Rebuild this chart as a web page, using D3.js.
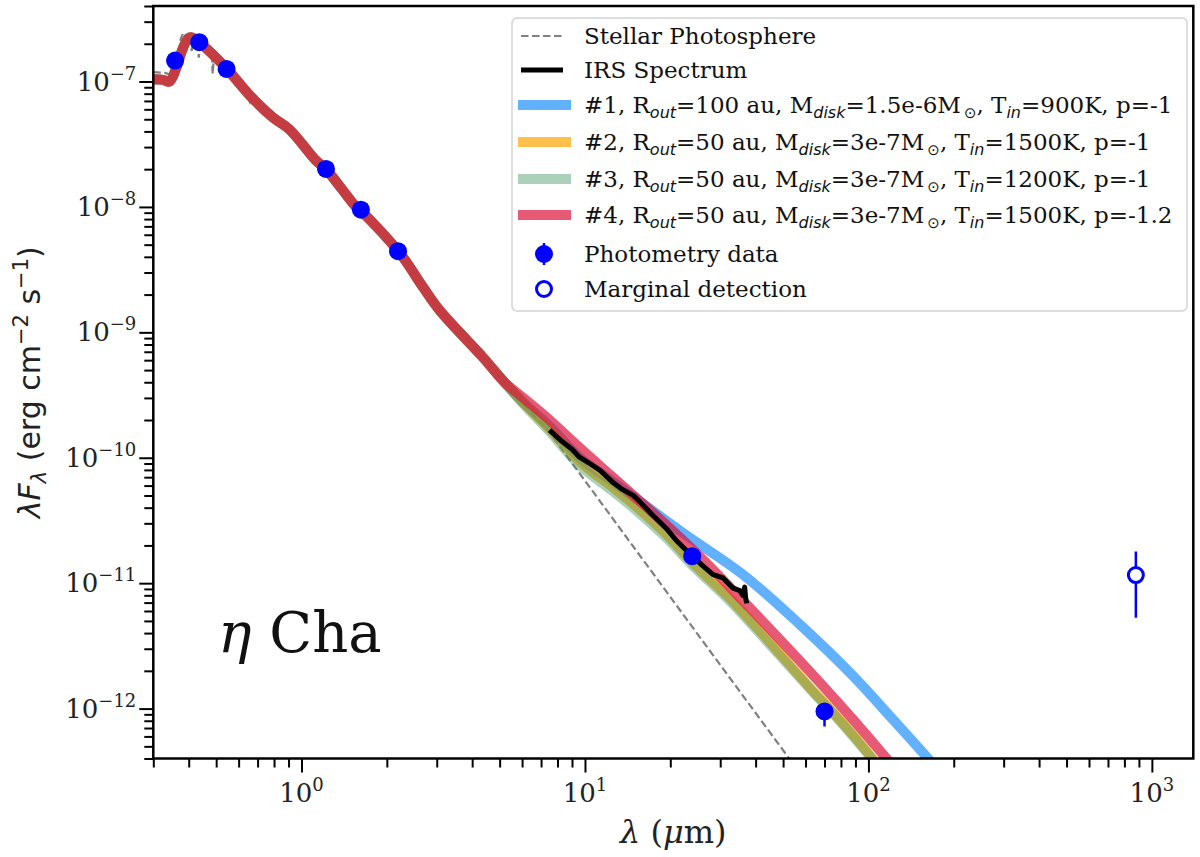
<!DOCTYPE html>
<html><head><meta charset="utf-8">
<script src="https://cdn.jsdelivr.net/npm/d3@7"></script>
<style>body{margin:0;background:#fff;} svg{display:block;}</style>
</head><body><svg id="c" width="1200" height="857"></svg>
<script>
// ---------------- DATA ----------------
// wavelength in micron, flux lambda*F_lambda in erg cm^-2 s^-1
const photosphere = [[0.30,1.19e-7],[0.33,1.17e-7],[0.35,1.12e-7],[0.365,1.45e-7],[0.375,2.2e-7],[0.383,2.45e-7],[0.39,2.35e-7],[0.397,1.95e-7],[0.40,2.3e-7],[0.41,1.75e-7],[0.413,2.2e-7],[0.43,2.05e-7],[0.434,1.55e-7],[0.44,2.0e-7],[0.47,1.7e-7],[0.483,1.55e-7],[0.486,1.15e-7],[0.49,1.5e-7],[0.544,1.25e-7],[0.62,8.8e-8],[0.656,6.9e-8],[0.66,7.6e-8],[0.79,5.2e-8],[0.88,4.5e-8],[0.90,3.9e-8],[0.92,4.3e-8],[1.126,2.36e-8],[1.56,1.0e-8],[2.22,4.3e-9],[3.07,1.52e-9],[4.37,6.4e-10],[5.7,3.1e-10],[7.5,1.59e-10],[25.4,3.72e-12],[60,2.66e-13]];
const modelsShared = [[0.30,1.04e-7],[0.325,1.03e-7],[0.342,1.0e-7],[0.36,1.25e-7],[0.38,1.8e-7],[0.398,2.2e-7],[0.41,2.25e-7],[0.436,2.05e-7],[0.544,1.27e-7],[0.655,7.8e-8],[0.79,5.2e-8],[0.906,4.15e-8],[1.126,2.34e-8],[1.22,2.0e-8],[1.56,9.95e-9],[1.62,9.3e-9],[2.22,4.3e-9],[2.68,2.3e-9],[3.07,1.5e-9],[4.37,6.3e-10],[5.2,4.0e-10]];
const model1Tail = [[6.0,2.82e-10],[7.5,1.78e-10],[9.58,1.0e-10],[12.0,6.92e-11],[14.8,4.9e-11],[22.2,2.51e-11],[36.1,1.17e-11],[57.3,4.68e-12],[88.3,1.82e-12],[122.4,8.13e-13],[162.6,3.98e-13],[190,2.63e-13]];
const model2Tail = [[6.0,2.82e-10],[7.5,1.70e-10],[9.58,9.33e-11],[12.6,5.75e-11],[15,4.17e-11],[19.4,2.45e-11],[24,1.45e-11],[32.4,7.59e-12],[43.7,3.63e-12],[63.8,1.38e-12],[75.1,9.33e-13],[98.6,4.57e-13],[125,2.29e-13]];
const model3Tail = [[6.0,2.75e-10],[7.5,1.62e-10],[9.58,8.71e-11],[12.6,5.37e-11],[15,3.89e-11],[19.4,2.29e-11],[24,1.38e-11],[32.4,7.24e-12],[43.7,3.47e-12],[63.8,1.35e-12],[75.1,9.12e-13],[98.6,4.47e-13],[125,2.24e-13]];
const model4Tail = [[6.04,3.02e-10],[7.5,2.0e-10],[9.58,1.2e-10],[12.6,6.92e-11],[18.4,3.24e-11],[24.7,1.74e-11],[36.1,7.24e-12],[57.3,2.4e-12],[86.1,8.71e-13],[116,3.98e-13],[135,2.63e-13]];
const irsSpectrum = [[7.5,1.66e-10],[8.2,1.38e-10],[9.0,1.17e-10],[9.57,1.01e-10],[10.3,9.12e-11],[11.3,7.94e-11],[12.6,6.31e-11],[13.5,5.62e-11],[14.8,5.01e-11],[15.6,4.47e-11],[17.2,3.55e-11],[19.4,2.72e-11],[21,2.19e-11],[22.8,1.82e-11],[24.1,1.62e-11],[26,1.38e-11],[28.3,1.17e-11],[30.7,1.1e-11],[33.3,9.12e-12],[35.2,8.71e-12],[36.0,8.0e-12],[36.6,9.3e-12],[36.9,7.6e-12],[37.2,6.9e-12]];
const photWave = [0.358,0.436,0.544,1.22,1.62,2.19,23.9,70];
const photFlux = [1.47e-7,2.06e-7,1.26e-7,2.01e-8,9.5e-9,4.44e-9,1.64e-11,9.5e-13];
const photErrLow  = [3e-9,4e-9,2.5e-9,4e-10,2e-10,9e-11,3e-13,2.3e-13];
const photErrHigh = [3e-9,4e-9,2.5e-9,4e-10,2e-10,9e-11,3e-13,1.0e-13];
const margWave = [878];
const margFlux = [1.16e-11];
const margErr  = [6.3e-12];
const xMajorTicks = [1,10,100,1000];
const xTickExp = ["0","1","2","3"];
const yMajorTicks = [1e-7,1e-8,1e-9,1e-10,1e-11,1e-12];
const yTickExp = ["−7","−8","−9","−10","−11","−12"];
const legendLabels = [
  [["Stellar Photosphere","n"]],
  [["IRS Spectrum","n"]],
  [["#1, R","n"],["out","s"],["=100 au, M","n"],["disk","s"],["=1.5e-6M","n"],["⊙","o"],[", T","n"],["in","s"],["=900K, p=-1","n"]],
  [["#2, R","n"],["out","s"],["=50 au, M","n"],["disk","s"],["=3e-7M","n"],["⊙","o"],[", T","n"],["in","s"],["=1500K, p=-1","n"]],
  [["#3, R","n"],["out","s"],["=50 au, M","n"],["disk","s"],["=3e-7M","n"],["⊙","o"],[", T","n"],["in","s"],["=1200K, p=-1","n"]],
  [["#4, R","n"],["out","s"],["=50 au, M","n"],["disk","s"],["=3e-7M","n"],["⊙","o"],[", T","n"],["in","s"],["=1500K, p=-1.2","n"]],
  [["Photometry data","n"]],
  [["Marginal detection","n"]]
];

// ---------------- LAYOUT ----------------
const L = 153.3, R = 1193.3, T = 6, B = 758.5;
const svg = d3.select("#c");
const x = d3.scaleLog().domain([0.3, 1400]).range([L, R]);
const y = d3.scaleLog().domain([4e-13, 4e-7]).range([B, T]);
const serif = "'DejaVu Serif', serif";
const sans = "'DejaVu Sans', sans-serif";

svg.append("defs").append("clipPath").attr("id","clip")
  .append("rect").attr("x",L).attr("y",T).attr("width",R-L).attr("height",B-T);
const plot = svg.append("g").attr("clip-path","url(#clip)");

const lineLin = d3.line().x(d=>x(d[0])).y(d=>y(d[1]));
const lineSmooth = d3.line().x(d=>x(d[0])).y(d=>y(d[1])).curve(d3.curveCatmullRom.alpha(0.5));

// photosphere
plot.append("path").datum(photosphere).attr("d", lineLin)
  .attr("fill","none").attr("stroke","#808080").attr("stroke-width",2.2)
  .attr("stroke-dasharray","7.5,3.5");

const models = [
  {data: modelsShared.concat(model1Tail), color:"#1e90ff", op:0.7},
  {data: modelsShared.concat(model2Tail), color:"#ffa500", op:0.7},
  {data: modelsShared.concat(model3Tail), color:"#2e8b57", op:0.4},
  {data: modelsShared.concat(model4Tail), color:"#dc143c", op:0.7}
];
models.forEach(m => {
  plot.append("path").datum(m.data).attr("d", lineSmooth)
    .attr("fill","none").attr("stroke",m.color).attr("stroke-opacity",m.op)
    .attr("stroke-width",10).attr("stroke-linejoin","round");
});

// IRS spectrum
plot.append("path").datum(irsSpectrum).attr("d", lineLin)
  .attr("fill","none").attr("stroke","#000").attr("stroke-width",5)
  .attr("stroke-linejoin","round");

// photometry
const phot = photWave.map((w,i)=>({w, f:photFlux[i], lo:photErrLow[i], hi:photErrHigh[i]}));
plot.selectAll(".perr").data(phot).enter().append("line")
  .attr("x1",d=>x(d.w)).attr("x2",d=>x(d.w))
  .attr("y1",d=>y(d.f+d.hi)).attr("y2",d=>y(d.f-d.lo))
  .attr("stroke","#0000ff").attr("stroke-width",2.5);
plot.selectAll(".pdot").data(phot).enter().append("circle")
  .attr("cx",d=>x(d.w)).attr("cy",d=>y(d.f)).attr("r",9).attr("fill","#0000ff");

const marg = margWave.map((w,i)=>({w, f:margFlux[i], e:margErr[i]}));
plot.selectAll(".merr").data(marg).enter().append("line")
  .attr("x1",d=>x(d.w)).attr("x2",d=>x(d.w))
  .attr("y1",d=>y(d.f+d.e)).attr("y2",d=>y(d.f-d.e))
  .attr("stroke","#0000ff").attr("stroke-width",2.5);
plot.selectAll(".mdot").data(marg).enter().append("circle")
  .attr("cx",d=>x(d.w)).attr("cy",d=>y(d.f)).attr("r",7.5)
  .attr("fill","#fff").attr("stroke","#0000ff").attr("stroke-width",3);

// ---------------- AXES ----------------
function minorTicks(lo, hi){
  const out=[];
  for(let e=Math.floor(Math.log10(lo)); e<=Math.ceil(Math.log10(hi)); e++){
    for(let k=2;k<=9;k++){ const v=k*Math.pow(10,e); if(v>=lo*0.999 && v<=hi*1.001) out.push(v); }
  }
  return out;
}
const axStyle = g => { g.select(".domain").remove(); g.selectAll("line").attr("stroke","#000").attr("stroke-width",2); };
svg.append("g").attr("transform",`translate(0,${B})`)
  .call(d3.axisBottom(x).tickValues(xMajorTicks).tickSize(14).tickFormat("")).call(axStyle);
svg.append("g").attr("transform",`translate(0,${B})`)
  .call(d3.axisBottom(x).tickValues(minorTicks(0.3,1400)).tickSize(9).tickFormat("")).call(axStyle);
svg.append("g").attr("transform",`translate(${L},0)`)
  .call(d3.axisLeft(y).tickValues(yMajorTicks).tickSize(14).tickFormat("")).call(axStyle);
svg.append("g").attr("transform",`translate(${L},0)`)
  .call(d3.axisLeft(y).tickValues(minorTicks(4e-13,4e-7)).tickSize(9).tickFormat("")).call(axStyle);

svg.append("rect").attr("x",L).attr("y",T).attr("width",R-L).attr("height",B-T)
  .attr("fill","none").attr("stroke","#000").attr("stroke-width",2.5);

// tick labels
xMajorTicks.forEach((v,i)=>{
  const t = svg.append("text").attr("x",x(v)).attr("y",B+43).attr("text-anchor","middle")
    .attr("font-family",serif).attr("font-size",26).attr("fill","#222");
  t.append("tspan").text("10");
  t.append("tspan").attr("dy",-11).attr("font-size",18).text(xTickExp[i]);
});
yMajorTicks.forEach((v,i)=>{
  const t = svg.append("text").attr("x",L-17).attr("y",y(v)+9).attr("text-anchor","end")
    .attr("font-family",serif).attr("font-size",26).attr("fill","#222");
  t.append("tspan").text("10");
  t.append("tspan").attr("dy",-11).attr("font-size",18).text(yTickExp[i]);
});

// axis titles
const xl = svg.append("text").attr("x",(L+R)/2).attr("y",843).attr("text-anchor","middle")
  .attr("font-family",serif).attr("font-size",32).attr("fill","#222");
xl.append("tspan").attr("font-style","italic").text("λ");
xl.append("tspan").text(" (");
xl.append("tspan").attr("font-style","italic").text("μ");
xl.append("tspan").text("m)");

const yl = svg.append("text").attr("transform",`translate(40,${(T+B)/2}) rotate(-90)`)
  .attr("text-anchor","middle").attr("font-family",sans).attr("font-size",30).attr("fill","#222");
yl.append("tspan").attr("font-style","italic").text("λF");
yl.append("tspan").attr("font-style","italic").attr("font-size",21).attr("dy",6).text("λ");
yl.append("tspan").attr("dy",-6).text(" (erg cm");
yl.append("tspan").attr("font-size",21).attr("dy",-12).text("−2");
yl.append("tspan").attr("dy",12).text(" s");
yl.append("tspan").attr("font-size",21).attr("dy",-12).text("−1");
yl.append("tspan").attr("dy",12).text(")");

// star name
const nm = svg.append("text").attr("x",218).attr("y",652)
  .attr("font-family",serif).attr("font-size",56).attr("fill","#111");
nm.append("tspan").attr("font-style","italic").text("η");
nm.append("tspan").text(" Cha");

// ---------------- LEGEND ----------------
const leg = svg.append("g");
leg.append("rect").attr("x",512).attr("y",18).attr("width",675).attr("height",293).attr("rx",5)
  .attr("fill","#fff").attr("fill-opacity",0.85).attr("stroke","#d3d3d3").attr("stroke-width",1.5);
const rowY = [36,70,105,142,179,215,254,289];
const hx1 = 518, hx2 = 571, tx = 584;
leg.append("line").attr("x1",hx1+3).attr("x2",hx2-8).attr("y1",rowY[0]).attr("y2",rowY[0])
  .attr("stroke","#808080").attr("stroke-width",2.2).attr("stroke-dasharray","7.5,3.5");
leg.append("line").attr("x1",hx1+3).attr("x2",hx2-8).attr("y1",rowY[1]).attr("y2",rowY[1])
  .attr("stroke","#000").attr("stroke-width",5);
models.forEach((m,i)=>{
  leg.append("line").attr("x1",hx1).attr("x2",hx2).attr("y1",rowY[i+2]).attr("y2",rowY[i+2])
    .attr("stroke",m.color).attr("stroke-opacity",m.op).attr("stroke-width",10);
});
leg.append("line").attr("x1",544).attr("x2",544).attr("y1",rowY[6]-11).attr("y2",rowY[6]+11)
  .attr("stroke","#0000ff").attr("stroke-width",2.5);
leg.append("circle").attr("cx",544).attr("cy",rowY[6]).attr("r",9).attr("fill","#0000ff");
leg.append("circle").attr("cx",544).attr("cy",rowY[7]).attr("r",7.5)
  .attr("fill","#fff").attr("stroke","#0000ff").attr("stroke-width",3);
legendLabels.forEach((segs,i)=>{
  const t = leg.append("text").attr("x",tx).attr("y",rowY[i]+8)
    .attr("font-family",serif).attr("font-size",23).attr("fill","#111");
  let shift = 0;
  segs.forEach(([s,k])=>{
    if(k==="n"){
      t.append("tspan").attr("dy",-shift).text(s); shift=0;
    } else if(k==="s"){
      t.append("tspan").attr("dy",5-shift).attr("font-family",sans).attr("font-style","italic")
        .attr("font-size",16).text(s); shift=5;
    } else {
      t.append("tspan").attr("dy",5-shift).attr("font-family",sans)
        .attr("font-size",15).attr("dx",3).text(s); shift=5;
    }
  });
});
</script></body></html>
